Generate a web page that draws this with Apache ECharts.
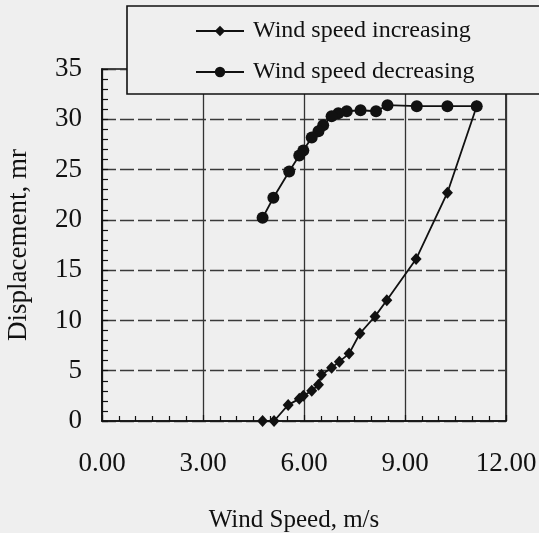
<!DOCTYPE html>
<html>
<head>
<meta charset="utf-8">
<script src="https://cdn.jsdelivr.net/npm/echarts@6/dist/echarts.min.js"></script>
<style>
  html, body { margin: 0; padding: 0; background: #efefef; }
  #chart { width: 539px; height: 533px; }
</style>
</head>
<body>
<div id="chart"></div>
<script>
// Wind speed (m/s) and displacement (mr) while the wind speed ramps up
const increasingSpeed = [4.77, 5.11, 5.53, 5.86, 5.98, 6.23, 6.43, 6.52, 6.82, 7.05, 7.34, 7.66, 8.11, 8.46, 9.33, 10.26, 11.13];
const increasingDisp  = [0.0, 0.0, 1.6, 2.2, 2.5, 3.0, 3.6, 4.6, 5.3, 5.9, 6.7, 8.7, 10.4, 12.0, 16.1, 22.7, 31.3];

// ... and while it ramps back down
const decreasingSpeed = [11.13, 10.26, 9.35, 8.48, 8.14, 7.68, 7.27, 7.02, 6.82, 6.57, 6.43, 6.23, 5.98, 5.86, 5.56, 5.09, 4.77];
const decreasingDisp  = [31.3, 31.3, 31.3, 31.4, 30.8, 30.9, 30.8, 30.6, 30.3, 29.4, 28.8, 28.2, 26.9, 26.4, 24.8, 22.2, 20.2];

const seriesNames = ['Wind speed increasing', 'Wind speed decreasing'];
const xTitle = 'Wind Speed, m/s';
const yTitle = 'Displacement, mr';

const pairs = (xs, ys) => xs.map((x, i) => [x, ys[i]]);

const ink = '#111';
const font = 'Liberation Serif, Times New Roman, serif';

const chart = echarts.init(document.getElementById('chart'), null, { renderer: 'canvas' });

chart.setOption({
  backgroundColor: '#efefef',
  animation: false,
  grid: {
    left: 102, right: 33, top: 69, bottom: 112,
    containLabel: false,
    outerBoundsMode: 'none',
    show: true, borderColor: ink, borderWidth: 1.6, backgroundColor: 'transparent'
  },
  legend: {
    data: seriesNames,
    orient: 'vertical',
    left: 127, top: 6,
    padding: [13, 260, 10, 68],
    itemGap: 17,
    itemWidth: 48, itemHeight: 13,
    backgroundColor: '#efefef',
    borderColor: ink, borderWidth: 1.6,
    textStyle: { fontFamily: font, fontSize: 24, color: ink, padding: [0, 0, 0, 4] }
  },
  xAxis: {
    type: 'value', min: 0, max: 12, interval: 3,
    name: xTitle, nameLocation: 'middle', nameGap: 87,
    nameTextStyle: { fontFamily: font, fontSize: 25, color: ink, padding: [0, 20, 0, 0] },
    axisLine: { show: true, lineStyle: { color: ink, width: 1.6 } },
    axisTick: { show: true, inside: true, length: 6, lineStyle: { color: ink, width: 1.2 } },
    minorTick: { show: true, splitNumber: 6, length: 5, lineStyle: { color: ink, width: 1.2 } },
    axisLabel: { fontFamily: font, fontSize: 27, color: ink, margin: 29, formatter: v => v.toFixed(2) },
    splitLine: { show: true, lineStyle: { color: '#333', width: 1.3 } }
  },
  yAxis: {
    type: 'value', min: 0, max: 35, interval: 5,
    name: yTitle, nameLocation: 'middle', nameGap: 70,
    nameTextStyle: { fontFamily: font, fontSize: 27, color: ink },
    axisLine: { show: true, lineStyle: { color: ink, width: 1.6 } },
    axisTick: { show: true, inside: true, length: 6, lineStyle: { color: ink, width: 1.2 } },
    minorTick: { show: true, splitNumber: 5, length: 6, lineStyle: { color: ink, width: 1.2 } },
    axisLabel: { fontFamily: font, fontSize: 27, color: ink, margin: 20 },
    splitLine: { show: true, lineStyle: { color: '#3a3a3a', width: 1.3, type: [14, 4] } }
  },
  series: [
    {
      name: seriesNames[0], type: 'line',
      data: pairs(increasingSpeed, increasingDisp),
      symbol: 'diamond', symbolSize: [11, 12],
      itemStyle: { color: ink },
      lineStyle: { color: ink, width: 1.8 },
      z: 3
    },
    {
      name: seriesNames[1], type: 'line',
      data: pairs(decreasingSpeed, decreasingDisp),
      symbol: 'circle', symbolSize: 12,
      itemStyle: { color: ink },
      lineStyle: { color: ink, width: 1.8 },
      z: 4
    }
  ]
});
</script>
</body>
</html>
